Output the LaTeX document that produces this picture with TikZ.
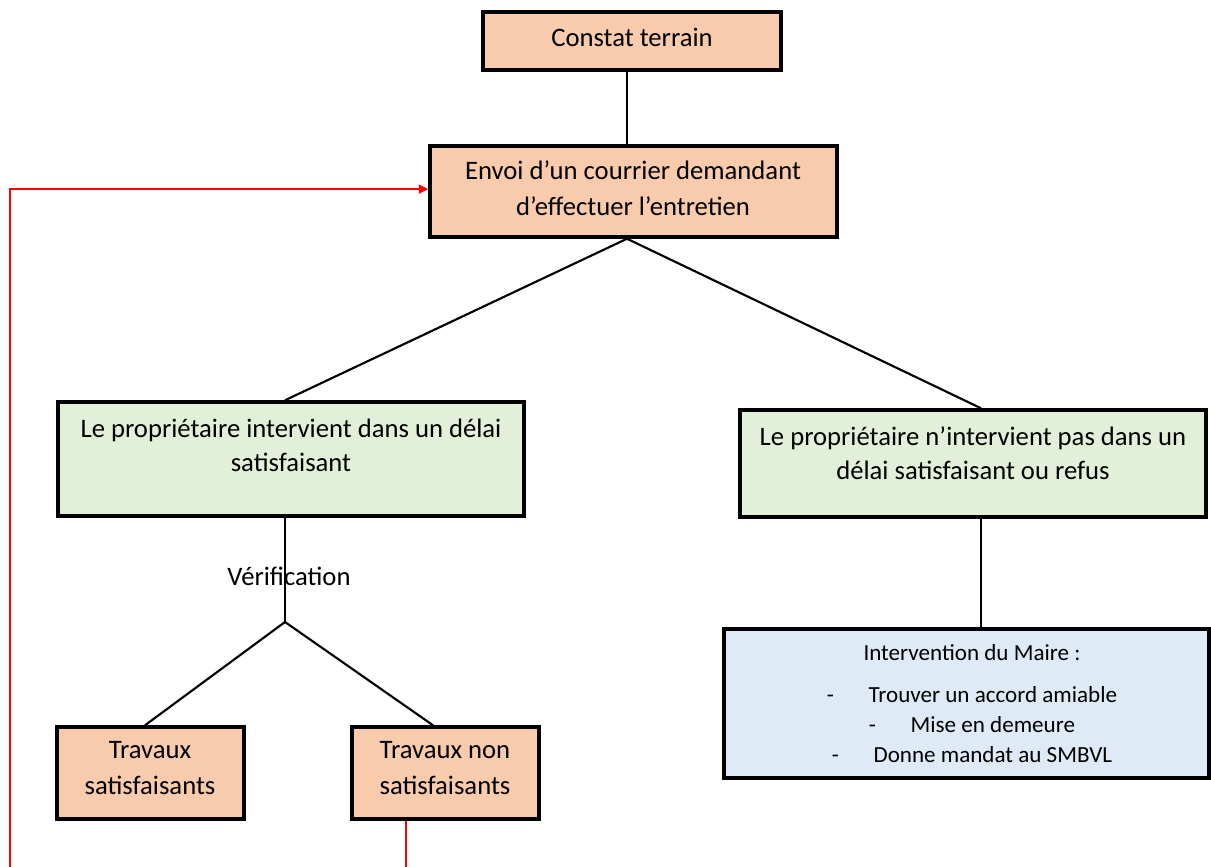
\documentclass[tikz,border=0pt]{standalone}
\usepackage{fontspec}
\setmainfont{Carlito}
\usetikzlibrary{fit,arrows.meta,calc}
\definecolor{peachc}{RGB}{248,203,173}
\definecolor{greenc}{RGB}{226,240,217}
\definecolor{bluec}{RGB}{222,235,247}
\definecolor{redc}{RGB}{255,0,0}
\begin{document}
\begin{tikzpicture}[x=0.75pt,y=-0.75pt,
  box/.style={draw=black, line width=2.6pt, inner sep=0pt, align=center,
    font=\fontsize{20}{27}\selectfont},
  peach/.style={box, fill=peachc},
  greenbox/.style={box, fill=greenc},
  bluebox/.style={box, fill=bluec},
  txt/.style={align=center, inner sep=0pt, font=\fontsize{20}{25.5}\selectfont},
  txtwide/.style={txt, font=\fontsize{20}{27}\selectfont},
  conn/.style={draw=black, line width=1.6pt},
  redconn/.style={draw=redc, line width=2pt}
]
\useasboundingbox (0,0) rectangle (1211,867);
\clip (0,0) rectangle (1211,867);

% boxes
\node[peach, fit={(483,12)(781,70)}] (constat) {};
\node[txt] (constatt) at (632,37) {Constat terrain};
\node[peach, fit={(430,146)(837,237)}] (envoi) {};
\node[txtwide] (envoit) at (633,188) {Envoi d’un courrier demandant\\d’effectuer l’entretien};
\node[greenbox, fit={(58,402)(524,516)}] (gl) {};
\node[txt] (glt) at (291,445) {Le propriétaire intervient dans un délai\\satisfaisant};
\node[greenbox, fit={(740,410)(1206,517)}] (gr) {};
\node[txt] (grt) at (973,453) {Le propriétaire n’intervient pas dans un\\délai satisfaisant ou refus};
\node[bluebox, fit={(724,629)(1209,778)}] (maire) {};
\node[align=center, inner sep=0pt, font=\fontsize{17.3}{22.5}\selectfont] (mairet) at (972,704)
  {Intervention du Maire :\\[9pt]
   -\hspace{26pt}Trouver un accord amiable\\
   -\hspace{26pt}Mise en demeure\\
   -\hspace{26pt}Donne mandat au SMBVL};
\node[peach, fit={(57,727)(244,819)}] (tsat) {};
\node[txtwide] (tsatt) at (150,768) {Travaux\\satisfaisants};
\node[peach, fit={(352,727)(539,819)}] (tnon) {};
\node[txtwide] (tnont) at (445,768) {Travaux non\\satisfaisants};

% connectors
\coordinate (j) at (285,622);
\coordinate (ec) at (627,0);
\draw[conn] (ec |- constat.south) -- (ec |- envoi.north);
\draw[conn] (ec |- envoi.south) -- (j |- gl.north);
\draw[conn] (ec |- envoi.south) -- (981,0 |- gr.north);
\draw[conn] (j |- gl.south) -- (j);
\draw[conn] (j) -- (145,0 |- tsat.north);
\draw[conn] (j) -- (433,0 |- tnon.north);
\draw[conn] (981,0 |- gr.south) -- (981,0 |- maire.north);
\node[txt] (verif) at (289,576) {Vérification};

% red feedback loop
\coordinate (rs) at ([xshift=-29.6pt]tnon.south);
\coordinate (ra) at ([yshift=1.8pt]envoi.west);
\coordinate (r1) at (rs |- 0,875);
\coordinate (r2) at (10,875);
\draw[redconn, -{Triangle[length=7pt,width=6.5pt]}]
  (rs) -- (r1) -- (r2) -- (10,0 |- ra) -- (ra);
\end{tikzpicture}
\end{document}
